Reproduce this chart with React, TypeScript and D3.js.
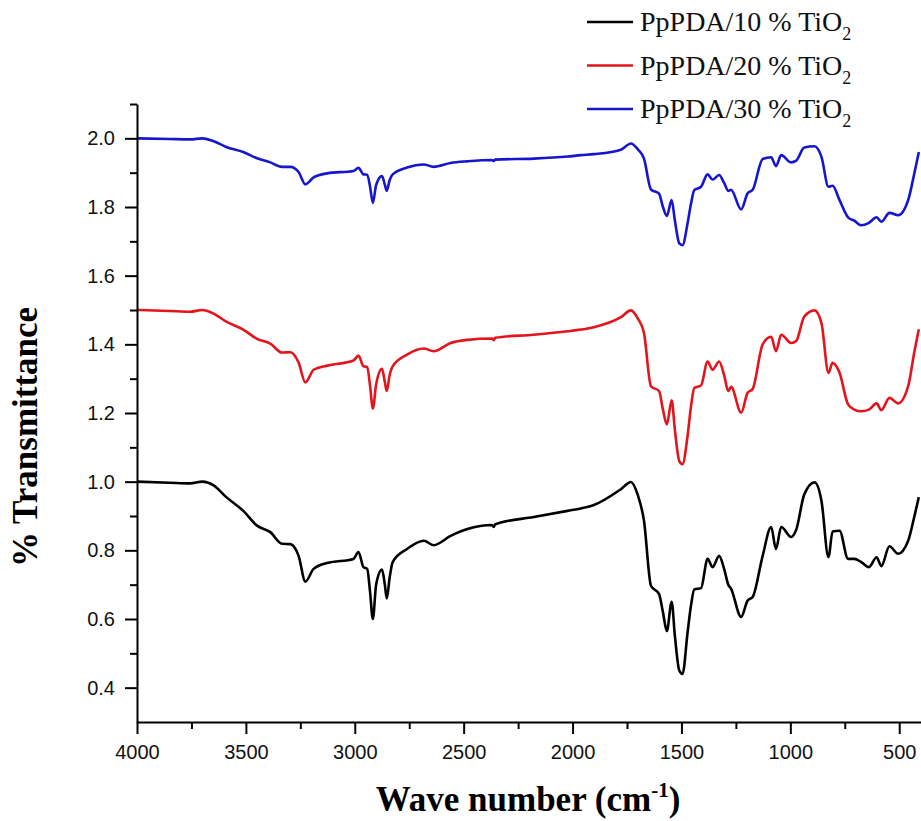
import * as d3 from 'd3';
import { useEffect, useRef } from 'react';

// FTIR spectra (wave number in cm-1, stacked transmittance)
const wavenumbers = [
  4000, 3850, 3756, 3700, 3650, 3590, 3512, 3449, 3388, 3334, 3296, 3258, 3227, 3189, 3127,
  3006, 2983, 2960, 2943, 2930, 2917, 2902, 2875, 2862, 2853, 2840, 2826, 2760, 2683, 2638,
  2560, 2483, 2370, 2362, 2355, 2178, 2023, 1962, 1902, 1778, 1732, 1700, 1672, 1640, 1603,
  1585, 1567, 1545, 1530, 1510, 1495, 1472, 1456, 1441, 1410, 1380, 1357, 1327, 1304, 1285,
  1272, 1226, 1196, 1173, 1127, 1088, 1066, 1042, 996, 973, 936, 889, 857, 825, 806,
  774, 735, 706, 675, 639, 604, 582, 545, 505, 459, 430, 410,
];

const tio2_10 = [
  1.0, 0.997, 0.995, 1.0, 0.99, 0.955, 0.915, 0.872, 0.853, 0.819, 0.818, 0.784, 0.709, 0.746, 0.763,
  0.775, 0.795, 0.751, 0.746, 0.68, 0.6, 0.7, 0.744, 0.7, 0.66, 0.72, 0.766, 0.804, 0.828, 0.815,
  0.842, 0.862, 0.874, 0.868, 0.876, 0.897, 0.915, 0.922, 0.932, 0.978, 0.999, 0.96, 0.886, 0.697, 0.673,
  0.62, 0.565, 0.65, 0.55, 0.45, 0.44, 0.56, 0.64, 0.686, 0.69, 0.775, 0.751, 0.784, 0.746, 0.7,
  0.688, 0.606, 0.654, 0.664, 0.784, 0.868, 0.804, 0.868, 0.839, 0.86, 0.963, 0.998, 0.944, 0.78, 0.855,
  0.857, 0.775, 0.775, 0.766, 0.751, 0.78, 0.754, 0.812, 0.79, 0.828, 0.9, 0.955,
];

const tio2_20 = [
  1.5, 1.497, 1.495, 1.5, 1.49, 1.466, 1.443, 1.416, 1.402, 1.376, 1.377, 1.347, 1.289, 1.326, 1.338,
  1.353, 1.367, 1.336, 1.334, 1.28, 1.213, 1.283, 1.329, 1.29, 1.264, 1.31, 1.336, 1.37, 1.388, 1.38,
  1.404, 1.413, 1.417, 1.412, 1.419, 1.428, 1.438, 1.443, 1.45, 1.479, 1.499, 1.475, 1.433, 1.278, 1.264,
  1.21, 1.167, 1.237, 1.15, 1.06, 1.051, 1.133, 1.22, 1.273, 1.28, 1.35, 1.326, 1.35, 1.31, 1.264,
  1.276, 1.201, 1.259, 1.27, 1.4, 1.422, 1.38, 1.428, 1.404, 1.41, 1.481, 1.499, 1.462, 1.317, 1.346,
  1.317, 1.225, 1.21, 1.205, 1.21, 1.228, 1.208, 1.244, 1.228, 1.278, 1.38, 1.444,
];

const tio2_30 = [
  2.0, 1.998, 1.997, 2.0, 1.992, 1.975, 1.96, 1.942, 1.93, 1.917, 1.917, 1.902, 1.866, 1.886, 1.898,
  1.905, 1.914, 1.895, 1.894, 1.86, 1.812, 1.864, 1.89, 1.865, 1.847, 1.878, 1.895, 1.915, 1.924, 1.917,
  1.928, 1.933, 1.937, 1.934, 1.938, 1.941, 1.947, 1.951, 1.954, 1.967, 1.985, 1.968, 1.941, 1.851, 1.839,
  1.8, 1.774, 1.82, 1.76, 1.694, 1.689, 1.752, 1.81, 1.849, 1.859, 1.895, 1.88, 1.893, 1.87, 1.847,
  1.85, 1.793, 1.84, 1.85, 1.94, 1.945, 1.919, 1.951, 1.93, 1.935, 1.973, 1.977, 1.946, 1.859, 1.862,
  1.82, 1.77, 1.76, 1.747, 1.754, 1.77, 1.757, 1.783, 1.776, 1.82, 1.9, 1.96,
];

const seriesLabels = ['PpPDA/10 % TiO', 'PpPDA/20 % TiO', 'PpPDA/30 % TiO'];
const seriesColors = ['#000000', '#e3141c', '#1616cf'];

const xTicks = [4000, 3500, 3000, 2500, 2000, 1500, 1000, 500];
const xMinor = [3750, 3250, 2750, 2250, 1750, 1250, 750];
const yTicks = [0.4, 0.6, 0.8, 1.0, 1.2, 1.4, 1.6, 1.8, 2.0];
const yMinor = [0.5, 0.7, 0.9, 1.1, 1.3, 1.5, 1.7, 1.9, 2.1];

export default function App() {
  const ref = useRef<SVGSVGElement>(null);

  useEffect(() => {
    const svg = d3.select(ref.current);
    svg.selectAll('*').remove();

    const x = d3.scaleLinear().domain([4000, 400]).range([137, 921]);
    const y = d3.scaleLinear().domain([0.3, 2.1]).range([722, 104]);

    const sans = 'Liberation Sans, Arial, sans-serif';
    const serif = 'Liberation Serif, Times New Roman, serif';

    // spectra
    const series = [tio2_10, tio2_20, tio2_30];
    const line = d3.line<[number, number]>()
      .x(d => x(d[0]))
      .y(d => y(d[1]))
      .curve(d3.curveMonotoneX);

    series.forEach((vals, i) => {
      const pts = wavenumbers.map((w, j) => [w, vals[j]] as [number, number]);
      svg.append('path')
        .attr('d', line(pts))
        .attr('fill', 'none')
        .attr('stroke', seriesColors[i])
        .attr('stroke-width', 2.6)
        .attr('stroke-linejoin', 'round');
    });

    // y axis
    const yAxis = svg.append('g')
      .attr('transform', 'translate(137,0)')
      .call(d3.axisLeft(y).tickValues(yTicks).tickSize(12).tickSizeOuter(0).tickPadding(10)
        .tickFormat(d3.format('.1f')));
    svg.append('g')
      .attr('transform', 'translate(137,0)')
      .call(d3.axisLeft(y).tickValues(yMinor).tickSize(7).tickSizeOuter(0).tickFormat(() => ''))
      .select('.domain').remove();

    // x axis
    const xAxis = svg.append('g')
      .attr('transform', 'translate(0,722)')
      .call(d3.axisBottom(x).tickValues(xTicks).tickSize(12).tickSizeOuter(0).tickPadding(11)
        .tickFormat(d3.format('d')));
    svg.append('g')
      .attr('transform', 'translate(0,722)')
      .call(d3.axisBottom(x).tickValues(xMinor).tickSize(7).tickSizeOuter(0).tickFormat(() => ''))
      .select('.domain').remove();

    [yAxis, xAxis].forEach(g => {
      g.attr('font-family', sans).attr('font-size', 20);
      g.selectAll('text').attr('fill', '#111');
    });
    svg.selectAll('.domain, .tick line').attr('stroke', '#000').attr('stroke-width', 2);

    // axis titles
    svg.append('text')
      .attr('transform', 'translate(37,437) rotate(-90)')
      .attr('text-anchor', 'middle')
      .attr('font-family', serif)
      .attr('font-weight', 'bold')
      .attr('font-size', 35)
      .text('% Transmittance');

    const xt = svg.append('text')
      .attr('x', 528)
      .attr('y', 811)
      .attr('text-anchor', 'middle')
      .attr('font-family', serif)
      .attr('font-weight', 'bold')
      .attr('font-size', 35);
    xt.append('tspan').text('Wave number (cm');
    xt.append('tspan').attr('dy', -14).attr('font-size', 21).text('-1');
    xt.append('tspan').attr('dy', 14).text(')');

    // legend
    seriesLabels.forEach((label, i) => {
      const ly = 22 + i * 43.5;
      svg.append('line')
        .attr('x1', 587).attr('x2', 633)
        .attr('y1', ly).attr('y2', ly)
        .attr('stroke', seriesColors[i])
        .attr('stroke-width', 2.6);
      const t = svg.append('text')
        .attr('x', 640)
        .attr('y', ly + 9)
        .attr('font-family', serif)
        .attr('font-size', 28)
        .attr('fill', '#111');
      t.append('tspan').text(label);
      t.append('tspan').attr('dy', 9).attr('font-size', 18).text('2');
    });
  }, []);

  return (
    <svg
      ref={ref}
      width={921}
      height={821}
      style={{ position: 'absolute', left: 0, top: 0, background: '#fff' }}
    />
  );
}
